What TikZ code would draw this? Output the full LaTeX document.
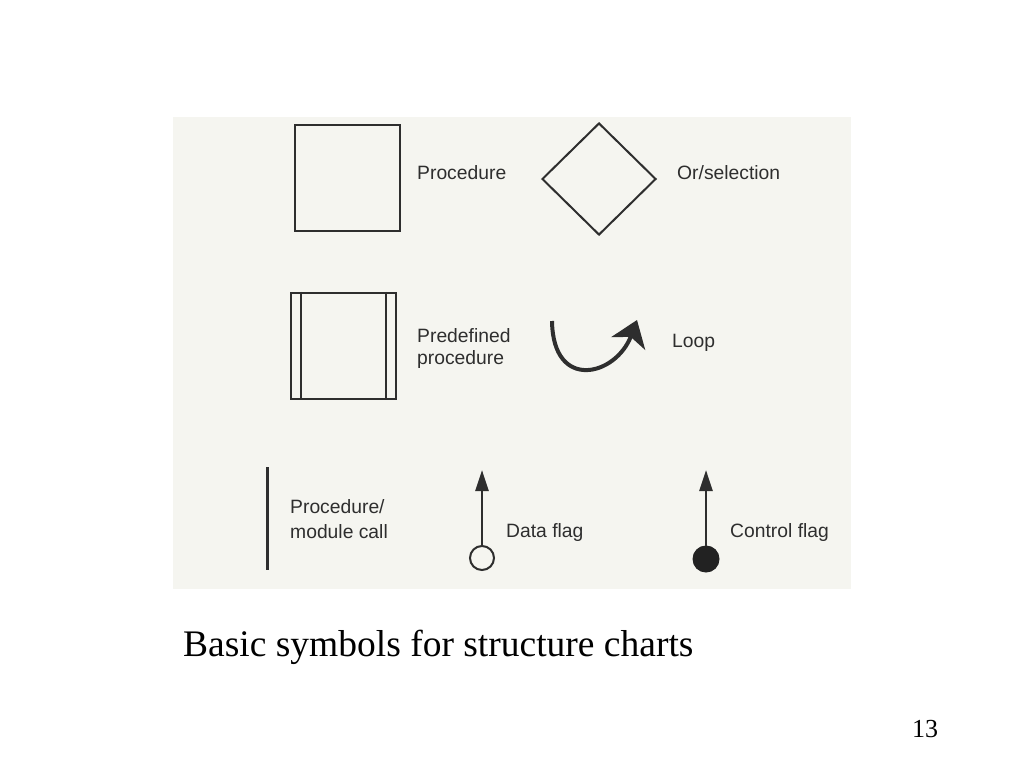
\documentclass[tikz,border=0pt]{standalone}
\usepackage{fontspec}
\setmainfont{Liberation Serif}
\newfontfamily\labelfont{Liberation Sans}
\usetikzlibrary{shapes.geometric,arrows.meta}
\definecolor{panel}{HTML}{F5F5F0}
\definecolor{ink}{HTML}{2E2E2E}
\definecolor{fillink}{HTML}{222222}
\begin{document}
\begin{tikzpicture}[x=1pt,y=-1pt,
  lbl/.style={anchor=base west, inner sep=0pt, font=\labelfont\fontsize{19.3}{22}\selectfont, text=ink},
  symbox/.style={draw=ink, line width=2.5pt, minimum width=105pt, minimum height=106pt, inner sep=0pt},
  flagshaft/.style={draw=ink, line width=2.5pt, -{Triangle[length=21pt,width=13pt]}},
]
\useasboundingbox (0,0) rectangle (1024,768);
\fill[white] (0,0) rectangle (1024,768);
\fill[panel] (173,117) rectangle (851,589);

% Procedure
\node[symbox] (proc) at (347.5,178) {};
\node[lbl] (procl) at (417,179) {Procedure};

% Or/selection
\node[diamond, draw=ink, line width=2pt, minimum width=114pt, minimum height=112pt, inner sep=0pt] (sel) at (599,179) {};
\node[lbl] (sell) at (677,179) {Or/selection};

% Predefined procedure
\node[symbox] (pre) at (343.5,346) {};
\draw[ink, line width=2.5pt] ([xshift=11pt]pre.north west) -- ([xshift=11pt]pre.south west);
\draw[ink, line width=2.5pt] ([xshift=-11.5pt]pre.north east) -- ([xshift=-11.5pt]pre.south east);
\node[lbl] (prel1) at (417,342) {Predefined};
\node[lbl] (prel2) at (417,364) {procedure};

% Loop
\coordinate (loopA) at (552,321);
\coordinate (loopB) at (637,320);
\draw[ink, line width=4pt, -{Stealth[length=25pt,width=36pt,inset=7pt]}]
  (loopA) .. controls (553,392) and (616,376) .. (loopB);
\node[lbl] (loopl) at (672,347) {Loop};

% Procedure/module call
\coordinate (callT) at (267,467);
\coordinate (callB) at (267,570);
\draw[ink, line width=3pt] (callT) -- (callB);
\node[lbl] (calll1) at (290,513) {Procedure/};
\node[lbl] (calll2) at (290,538) {module call};

% Data flag
\node[circle, draw=ink, line width=2pt, fill=panel, minimum size=24pt, inner sep=0pt] (dc) at (482,558) {};
\coordinate (dtip) at (482,470);
\draw[flagshaft] (dc.north) -- (dtip);
\node[lbl] (datal) at (506,537) {Data flag};

% Control flag
\node[circle, draw=fillink, line width=1pt, fill=fillink, minimum size=26pt, inner sep=0pt] (cc) at (706,559) {};
\coordinate (ctip) at (706,470);
\draw[flagshaft] (cc.north) -- (ctip);
\node[lbl] (ctrll) at (730,537) {Control flag};

% Caption and page number
\node[anchor=base west, inner sep=0pt, font=\fontsize{37.5}{44}\selectfont] (cap) at (183,656) {Basic symbols for structure charts};
\node[anchor=base west, inner sep=0pt, font=\fontsize{26}{30}\selectfont] (pnum) at (912,737) {13};
\end{tikzpicture}
\end{document}
